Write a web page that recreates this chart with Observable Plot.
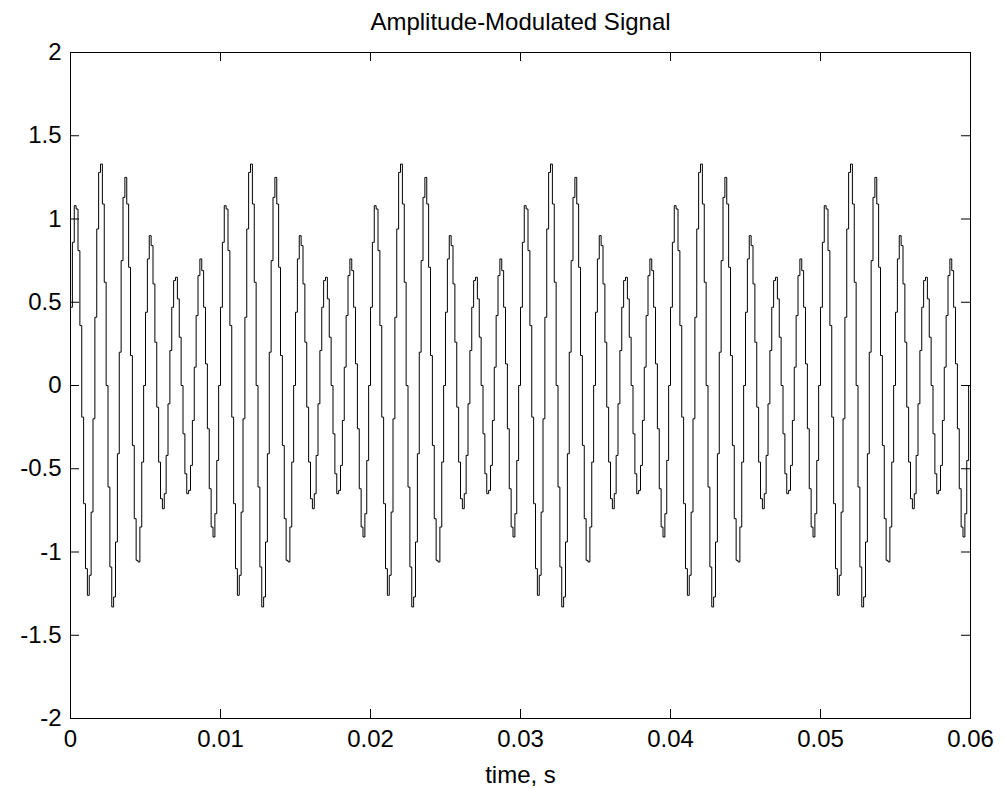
<!DOCTYPE html>
<html><head><meta charset="utf-8">
<script src="https://cdn.jsdelivr.net/npm/d3@7"></script>
<script src="https://cdn.jsdelivr.net/npm/@observablehq/plot@0.6"></script>
<style>html,body{margin:0;padding:0;background:#fff}svg{display:block}</style>
</head><body><div id="chart"></div>
<script>
const chartTitle = "Amplitude-Modulated Signal";
const xLabel = "time, s";
const sampleRate = 8000; // samples per second (one value every 1/8000 s)
const xTicks = [0, 0.01, 0.02, 0.03, 0.04, 0.05, 0.06];
const yTicks = [-2, -1.5, -1, -0.5, 0, 0.5, 1, 1.5, 2];
const xDomain = [0, 0.06];
const yDomain = [-2, 2];
const signal = [
0.47,0.86,1.08,1.06,0.81,0.36,-0.19,-0.71,-1.10,-1.26,-1.14,-0.76,-0.20,0.41,0.94,1.28,1.33,1.09,0.62,0.00,-0.61,-1.09,-1.33,-1.27,-0.94,-0.41,0.20,0.75,1.13,1.25,1.09,0.71,0.18,-0.36,-0.80,-1.05,-1.06,-0.85,-0.46,0.00,0.44,0.76,0.90,0.84,0.61,0.26,-0.13,-0.46,-0.68,-0.74,-0.65,-0.42,-0.11,0.21,0.47,0.63,0.65,0.52,0.29,0.00,-0.29,-0.53,-0.65,-0.63,-0.48,-0.21,0.11,0.42,0.66,0.76,0.69,0.47,0.13,-0.26,-0.62,-0.85,-0.91,-0.77,-0.45,0.00,
0.47,0.86,1.08,1.06,0.81,0.36,-0.19,-0.71,-1.10,-1.26,-1.14,-0.76,-0.20,0.41,0.94,1.28,1.33,1.09,0.62,0.00,-0.61,-1.09,-1.33,-1.27,-0.94,-0.41,0.20,0.75,1.13,1.25,1.09,0.71,0.18,-0.36,-0.80,-1.05,-1.06,-0.85,-0.46,0.00,0.44,0.76,0.90,0.84,0.61,0.26,-0.13,-0.46,-0.68,-0.74,-0.65,-0.42,-0.11,0.21,0.47,0.63,0.65,0.52,0.29,0.00,-0.29,-0.53,-0.65,-0.63,-0.48,-0.21,0.11,0.42,0.66,0.76,0.69,0.47,0.13,-0.26,-0.62,-0.85,-0.91,-0.77,-0.45,0.00,
0.47,0.86,1.08,1.06,0.81,0.36,-0.19,-0.71,-1.10,-1.26,-1.14,-0.76,-0.20,0.41,0.94,1.28,1.33,1.09,0.62,0.00,-0.61,-1.09,-1.33,-1.27,-0.94,-0.41,0.20,0.75,1.13,1.25,1.09,0.71,0.18,-0.36,-0.80,-1.05,-1.06,-0.85,-0.46,0.00,0.44,0.76,0.90,0.84,0.61,0.26,-0.13,-0.46,-0.68,-0.74,-0.65,-0.42,-0.11,0.21,0.47,0.63,0.65,0.52,0.29,0.00,-0.29,-0.53,-0.65,-0.63,-0.48,-0.21,0.11,0.42,0.66,0.76,0.69,0.47,0.13,-0.26,-0.62,-0.85,-0.91,-0.77,-0.45,0.00,
0.47,0.86,1.08,1.06,0.81,0.36,-0.19,-0.71,-1.10,-1.26,-1.14,-0.76,-0.20,0.41,0.94,1.28,1.33,1.09,0.62,0.00,-0.61,-1.09,-1.33,-1.27,-0.94,-0.41,0.20,0.75,1.13,1.25,1.09,0.71,0.18,-0.36,-0.80,-1.05,-1.06,-0.85,-0.46,0.00,0.44,0.76,0.90,0.84,0.61,0.26,-0.13,-0.46,-0.68,-0.74,-0.65,-0.42,-0.11,0.21,0.47,0.63,0.65,0.52,0.29,0.00,-0.29,-0.53,-0.65,-0.63,-0.48,-0.21,0.11,0.42,0.66,0.76,0.69,0.47,0.13,-0.26,-0.62,-0.85,-0.91,-0.77,-0.45,0.00,
0.47,0.86,1.08,1.06,0.81,0.36,-0.19,-0.71,-1.10,-1.26,-1.14,-0.76,-0.20,0.41,0.94,1.28,1.33,1.09,0.62,0.00,-0.61,-1.09,-1.33,-1.27,-0.94,-0.41,0.20,0.75,1.13,1.25,1.09,0.71,0.18,-0.36,-0.80,-1.05,-1.06,-0.85,-0.46,0.00,0.44,0.76,0.90,0.84,0.61,0.26,-0.13,-0.46,-0.68,-0.74,-0.65,-0.42,-0.11,0.21,0.47,0.63,0.65,0.52,0.29,0.00,-0.29,-0.53,-0.65,-0.63,-0.48,-0.21,0.11,0.42,0.66,0.76,0.69,0.47,0.13,-0.26,-0.62,-0.85,-0.91,-0.77,-0.45,0.00,
0.47,0.86,1.08,1.06,0.81,0.36,-0.19,-0.71,-1.10,-1.26,-1.14,-0.76,-0.20,0.41,0.94,1.28,1.33,1.09,0.62,0.00,-0.61,-1.09,-1.33,-1.27,-0.94,-0.41,0.20,0.75,1.13,1.25,1.09,0.71,0.18,-0.36,-0.80,-1.05,-1.06,-0.85,-0.46,0.00,0.44,0.76,0.90,0.84,0.61,0.26,-0.13,-0.46,-0.68,-0.74,-0.65,-0.42,-0.11,0.21,0.47,0.63,0.65,0.52,0.29,0.00,-0.29,-0.53,-0.65,-0.63,-0.48,-0.21,0.11,0.42,0.66,0.76,0.69,0.47,0.13,-0.26,-0.62,-0.85,-0.91,-0.77,-0.45,0.00
];

const data = signal.map((v, i) => ({t: i / sampleRate, v}));

const W = 1004, H = 788;
const mt = 52, mb = 70, ml = 70, mr = 34;
const innerW = W - ml - mr, innerH = H - mt - mb;
const tickLen = 9;
const font = "'Liberation Sans', Arial, Helvetica, sans-serif";
const fs = 24;

const chart = Plot.plot({
  width: W, height: H,
  marginTop: mt, marginBottom: mb, marginLeft: ml, marginRight: mr,
  style: {fontFamily: font, fontSize: fs + "px", color: "#000", background: "#fff"},
  x: {domain: xDomain},
  y: {domain: yDomain},
  marks: [
    Plot.line(data, {x: "t", y: "v", curve: "step-after", stroke: "#000", strokeWidth: 1}),
    Plot.tickX(xTicks, {x: d => d, insetTop: innerH - tickLen, stroke: "#000"}),
    Plot.tickX(xTicks, {x: d => d, insetBottom: innerH - tickLen, stroke: "#000"}),
    Plot.tickY(yTicks, {y: d => d, insetRight: innerW - tickLen, stroke: "#000"}),
    Plot.tickY(yTicks, {y: d => d, insetLeft: innerW - tickLen, stroke: "#000"}),
    Plot.frame({stroke: "#000", strokeWidth: 1}),
    Plot.axisX({ticks: xTicks, tickSize: 0, tickPadding: 11, tickFormat: d => String(d), label: null, fontSize: fs}),
    Plot.axisY({ticks: yTicks, tickSize: 0, tickPadding: 9, tickFormat: d => String(d), label: null, fontSize: fs}),
    Plot.text([chartTitle], {frameAnchor: "top", lineAnchor: "middle", dy: -30, fontSize: fs, fill: "#000"}),
    Plot.text([xLabel], {frameAnchor: "bottom", lineAnchor: "middle", dy: 57, fontSize: fs, fill: "#000"})
  ]
});
document.getElementById("chart").appendChild(chart);
</script>
</body></html>
